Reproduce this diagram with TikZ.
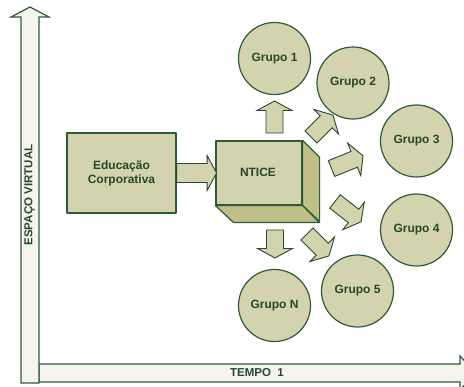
\documentclass[tikz,border=0pt]{standalone}
\usepackage{fontspec}
\setmainfont{Liberation Sans}
\usetikzlibrary{calc}
\definecolor{boxfill}{HTML}{D3D3AD}
\definecolor{boxdark}{HTML}{BFBF86}
\definecolor{edgegreen}{HTML}{2E5A3A}
\definecolor{txtgreen}{HTML}{25492A}
\definecolor{axisfill}{HTML}{F5F5EE}
\tikzset{
  every node/.style={font=\fontsize{12}{14}\selectfont\bfseries, text=txtgreen},
  boxface/.style={draw=edgegreen, fill=boxfill, line width=1.2pt, line join=round},
  sideface/.style={draw=edgegreen, fill=boxdark, line width=1.2pt, line join=round},
  grupo/.style={circle, draw=edgegreen, fill=boxfill, line width=1.2pt, minimum size=72pt, inner sep=0pt},
  axisarrow/.style={draw=edgegreen, fill=axisfill, line width=1.2pt},
  pics/barrow/.style args={#1/#2}{code={
    \path[draw=edgegreen!80!black, fill=boxfill, line width=0.9pt, line join=miter]
      (0,-#2) -- (#1-9.5,-#2) -- (#1-9.5,-17.5) -- (#1,0) -- (#1-9.5,17.5)
      -- (#1-9.5,#2) -- (0,#2) -- cycle;
  }}
}
\begin{document}
\begin{tikzpicture}[x=1pt,y=-1pt]
\useasboundingbox (0,0) rectangle (464,387);
% axes
\path[axisarrow] (39,364) -- (460,364) -- (460,356) -- (476,373) -- (460,390) -- (460,382) -- (39,382) -- cycle;
\path[axisarrow] (21,383) -- (21,17) -- (11,17) -- (30,7) -- (49,17) -- (39,17) -- (39,383) -- cycle;
\node[rotate=90, font=\fontsize{11.5}{13}\selectfont\bfseries] (yl) at (29.5,195) {ESPAÇO VIRTUAL};
\node[font=\fontsize{11.5}{13}\selectfont\bfseries] (xl) at (257,373) {TEMPO\ \ 1};
% Educação box
\node[boxface, minimum width=109pt, minimum height=80pt, align=center] (edu) at (121.5,173) {Educação\\Corporativa};
% NTICE cube
\node[boxface, minimum width=86pt, minimum height=64pt] (ntice) at (259,173) {};
\path[sideface] (ntice.north east) -- ++(17,17) -- ++(0,64) -- (ntice.south east) -- cycle;
\path[sideface] (ntice.south west) -- (ntice.south east) -- ++(17,17) -- ++(-86,0) -- cycle;
\node (nticelabel) at (258,172) {NTICE};
% arrow from Educação to NTICE
\pic at (edu.east) {barrow=40/9.5};
% groups
\node[grupo] (g1) at (274.5,58.5) {Grupo 1};
\node[grupo] (g2) at (353,83) {Grupo 2};
\node[grupo] (g3) at (416.5,141) {Grupo 3};
\node[grupo] (g4) at (416.5,230) {Grupo 4};
\node[grupo] (g5) at (357.5,291) {Grupo 5};
\node[grupo] (gn) at (274.5,305.5) {Grupo N};
% block arrows
\pic[rotate=90] at (274.5,133) {barrow=32/8.5};
\pic[rotate=45] at (311,137) {barrow=31/8.5};
\pic[rotate=22] at (331.5,168.5) {barrow=34/8.5};
\pic[rotate=-38] at (335,201.5) {barrow=33/8.5};
\pic[rotate=-45] at (307,234) {barrow=31/8.5};
\pic[rotate=-90] at (275,230) {barrow=28/8.5};
\end{tikzpicture}
\end{document}
